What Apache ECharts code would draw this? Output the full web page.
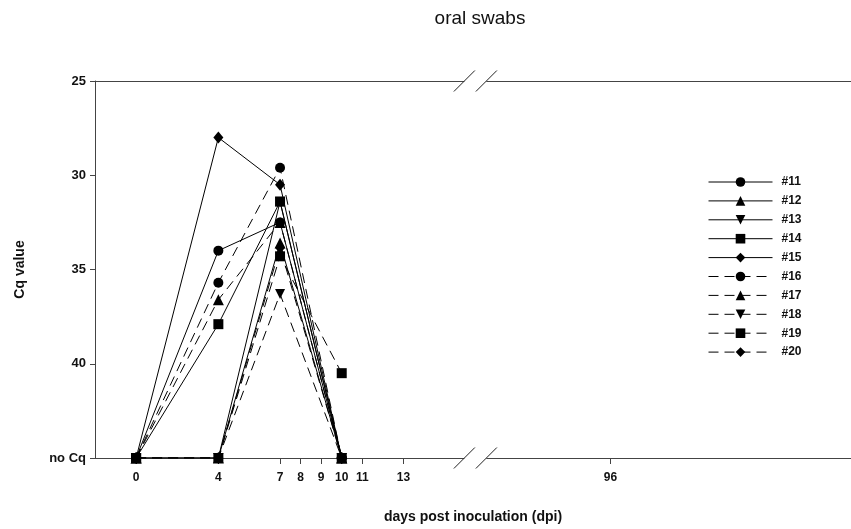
<!DOCTYPE html>
<html>
<head>
<meta charset="utf-8">
<script src="https://cdn.jsdelivr.net/npm/echarts@6/dist/echarts.min.js"></script>
<style>
html,body{margin:0;padding:0;background:#fff;}
#chart{width:851px;height:529px;}
</style>
</head>
<body>
<div id="chart"></div>
<script>
// ---- data ----
var days = [0, 4, 7, 10];
var NOCQ = 45;
var s11 = [45, 34.0, 32.5, 45];
var s12 = [45, 45, 33.6, 45];
var s13 = [45, 45, 31.4, 45];
var s14 = [45, 37.9, 31.4, 45];
var s15 = [45, 28.0, 30.5, 45];
var s16 = [45, 35.7, 29.6, 45];
var s17 = [45, 36.6, 32.5, 45];
var s18 = [45, 45, 36.3, 45];
var s19 = [45, 45, 34.3, 40.5];
var s20 = [45, 45, 33.85, 45];
var seriesNames = ['#11','#12','#13','#14','#15','#16','#17','#18','#19','#20'];
var xTicks = [0, 4, 7, 8, 9, 10, 11, 13, 96];
var yTicks = [25, 30, 35, 40, 45];
var yTickLabels = ['25', '30', '35', '40', 'no Cq'];
// broken x scale: days between BREAK_START and BREAK_END are collapsed
var BREAK_START = 16.5, BREAK_END = 89.43;
function brk(d){ return d <= BREAK_START ? d : d - (BREAK_END - BREAK_START); }
var X_MIN = -2, X_MAX_DAY = 107.7;

var allData = [s11,s12,s13,s14,s15,s16,s17,s18,s19,s20];
var triDown = 'path://M0,0 L10,0 L5,9 Z';
var symbols = ['circle','triangle',triDown,'rect','diamond','circle','triangle',triDown,'rect','diamond'];
var symSizes = [10, 11, 10, 10, [10,12], 10, 11, 10, 10, [10,12]];

var FONT = '"Liberation Sans", Arial, sans-serif';
var chart = echarts.init(document.getElementById('chart'), null, {renderer:'canvas'});

var tickPos = xTicks.map(brk);
var series = allData.map(function(arr, i){
  return {
    name: seriesNames[i],
    type: 'line',
    data: arr.map(function(v, j){ return [brk(days[j]), v]; }),
    symbol: symbols[i],
    symbolSize: symSizes[i],
    showAllSymbol: true,
    lineStyle: {color:'#000', width:1, type: i < 5 ? 'solid' : [10,6]},
    itemStyle: {color:'#000', borderWidth:0},
    z: 3
  };
});

chart.setOption({
  animation: false,
  backgroundColor: '#fff',
  title: {
    text: 'oral swabs', left: 475, top: 4, textAlign: 'center',
    textStyle: {fontFamily: FONT, fontWeight: 'normal', fontSize: 19, color: '#111'}
  },
  legend: {
    orient: 'vertical', left: 703, top: 170,
    itemWidth: 64, itemHeight: 12, itemGap: 4.9,
    data: seriesNames,
    lineStyle: {width: 1},
    textStyle: {fontFamily: FONT, fontWeight: 'bold', fontSize: 12, color: '#111', lineHeight: 14, padding: [0,0,0,4]}
  },
  grid: {left: 95, right: 0, top: 81, bottom: 65, containLabel: false},
  xAxis: [{
    type: 'value', min: X_MIN, max: brk(X_MAX_DAY),
    name: 'days post inoculation (dpi)', nameLocation: 'middle', nameGap: 52,
    nameTextStyle: {fontFamily: FONT, fontWeight: 'bold', fontSize: 14, color: '#111'},
    splitLine: {show: false},
    axisLine: {show: true, onZero: false, lineStyle: {color: '#444', width: 1}},
    axisTick: {show: true, inside: false, length: 6, customValues: tickPos, lineStyle: {color:'#444'}},
    axisLabel: {
      customValues: tickPos, margin: 14,
      fontFamily: FONT, fontWeight: 'bold', fontSize: 12, color: '#111',
      formatter: function(v){
        var k = tickPos.findIndex(function(t){ return Math.abs(t - v) < 1e-6; });
        return k >= 0 ? String(xTicks[k]) : '';
      }
    }
  }, {
    type: 'value', position: 'top', min: X_MIN, max: brk(X_MAX_DAY),
    splitLine: {show: false},
    axisLine: {show: true, onZero: false, lineStyle: {color: '#444', width: 1}},
    axisTick: {show: false}, axisLabel: {show: false}
  }],
  yAxis: {
    type: 'value', inverse: true, min: 25, max: 45, interval: 5,
    name: 'Cq value', nameLocation: 'middle', nameGap: 68,
    nameTextStyle: {fontFamily: FONT, fontWeight: 'bold', fontSize: 14, color: '#111'},
    splitLine: {show: false},
    axisLine: {show: true, onZero: false, lineStyle: {color: '#444', width: 1}},
    axisTick: {show: true, inside: false, length: 5, lineStyle: {color:'#444'}},
    axisLabel: {
      margin: 9, fontFamily: FONT, fontWeight: 'bold', fontSize: 13, color: '#111',
      formatter: function(v){
        var k = yTicks.indexOf(v);
        return k >= 0 ? yTickLabels[k] : '';
      }
    }
  },
  series: series
});

// axis break marks (//) on top and bottom axis lines
var xc = chart.convertToPixel({xAxisIndex: 0}, BREAK_START);
var yTop = chart.convertToPixel({yAxisIndex: 0}, 25);
var yBot = chart.convertToPixel({yAxisIndex: 0}, NOCQ);
var graphics = [];
[yTop, yBot].forEach(function(y){
  graphics.push({type:'rect', shape:{x: xc-11, y: y-2, width: 22, height: 4}, style:{fill:'#fff'}, z: 50});
  [-11, 11].forEach(function(off){
    graphics.push({type:'line', shape:{x1: xc+off-10.5, y1: y+10.5, x2: xc+off+10.5, y2: y-10.5},
      style:{stroke:'#222', lineWidth:1}, z: 51});
  });
});
chart.setOption({graphic: graphics});
</script>
</body>
</html>
